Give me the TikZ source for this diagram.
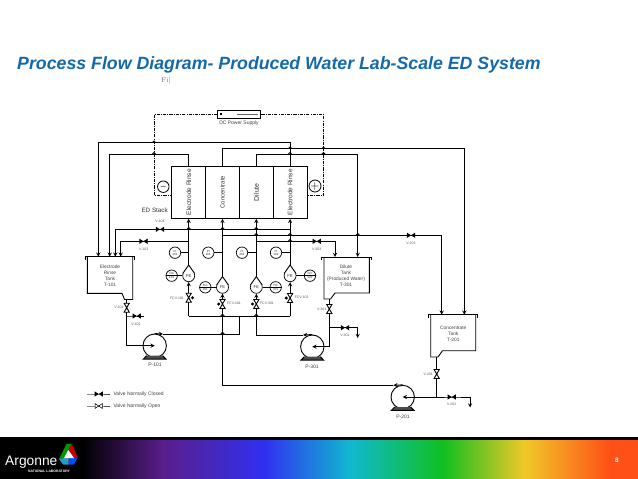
\documentclass[tikz,border=0pt]{standalone}
\usepackage{fontspec}
\setmainfont{Liberation Sans}

\definecolor{titleblue}{RGB}{20,105,170}
\definecolor{barpurple}{RGB}{90,30,140}
\definecolor{barblue}{RGB}{48,48,240}
\definecolor{barcyan}{RGB}{16,184,208}
\definecolor{bargreen}{RGB}{16,192,32}
\definecolor{baryellow}{RGB}{240,200,40}
\definecolor{barorange}{RGB}{255,80,24}
\pgfdeclarehorizontalshading{rainbowbar}{100bp}{
  color(0bp)=(black); color(25bp)=(black); color(31.5bp)=(black);
  color(37.8bp)=(barpurple);
  color(45.7bp)=(barblue);
  color(52.4bp)=(barcyan);
  color(59.7bp)=(bargreen);
  color(66.1bp)=(baryellow);
  color(72.8bp)=(barorange);
  color(100bp)=(barorange)}

\tikzset{
  pipe/.style={line width=0.9pt, >=stealth},
  powerline/.style={line width=0.8pt, dash pattern=on 3.2pt off 1.2pt on 0.8pt off 1.2pt},
  stackcell/.style={draw, line width=0.9pt, rotate=90, minimum width=52.3pt, minimum height=33.8pt, inner sep=0pt, text=black!80},
  gauge/.style={draw, circle, fill=white, line width=0.7pt, minimum size=11.4pt, inner sep=0pt, align=center, text=black!80, font=\fontsize{3}{3.2}\selectfont},
  element/.style={gauge, minimum size=12pt, font=\fontsize{4.2}{4.2}\selectfont},
  pole/.style={draw, circle, line width=0.8pt, minimum size=11.5pt, inner sep=0pt},
  pumpbody/.style={draw, circle, line width=0.9pt, minimum size=23.4pt, inner sep=0pt},
  tankline/.style={line width=0.9pt},
  tanklabel/.style={align=center, text=black!75, font=\fontsize{4.8}{6}\selectfont},
  vlabel/.style={inner sep=0pt, text=black!65, font=\fontsize{3.5}{4}\selectfont},
  tag/.style={inner sep=0pt, text=black!75, font=\fontsize{5}{6}\selectfont},
}

% Simbolos repetidos
\newcommand{\shutvalve}[1]{\fill[shift={(#1)}] (-4.2,-2.7) -- (4.2,2.7) -- (4.2,-2.7) -- (-4.2,2.7) -- cycle;}
\newcommand{\openvalve}[1]{\draw[pipe, fill=white, shift={(#1)}] (-2.6,-4.5) -- (2.6,-4.5) -- (-2.6,4.5) -- (2.6,4.5) -- cycle;}
\newcommand{\actuator}[2]{\fill[shift={(#1)}] (#2,0) circle (1.7);}
\newcommand{\pipehop}[2]{\draw[pipe] (#1-1.8,#2) arc (180:360:1.8);}
\newcommand{\elementcap}[1]{\draw[pipe, fill=white] (#1.160) -- (#1a) -- (#1.20);}
\newcommand{\pumpbase}[1]{\draw[line width=1pt, fill=black!70, shift={(#1)}] (-8,10) -- (-11.3,13.4) -- (11.3,13.4) -- (8,10);}

\begin{document}
\begin{tikzpicture}[x=1pt,y=-1pt]
    \useasboundingbox (0,0) rectangle (638,479);

    % Titulo
    \node[anchor=base west, inner sep=0pt, text=titleblue, font=\fontsize{17.75}{20}\selectfont\bfseries\itshape] (title) at (17,69) {Process Flow Diagram- Produced Water Lab-Scale ED System};
    \node[inner sep=0pt, text=black!55, font=\fontfamily{lmr}\fontsize{7}{8}\selectfont] (figtag) at (166,80.5) {Fi|};

    % Banda inferior
    \shade[shading=rainbowbar] (0,439) rectangle (638,479);
    \fill[black] (0,437.3) rectangle (638,440);
    \fill[green!60!black] (66.5,444) -- (71.7,444) -- (68.3,450) -- (64,458) -- (59,459) -- cycle;
    \fill[red!80!black] (71.7,444) -- (77.7,457.3) -- (74,458) -- (68.3,450) -- cycle;
    \fill[blue!70!cyan] (74,458) -- (77.7,457.3) -- (74,464.7) -- (68.5,464.7) -- (68.5,458) -- cycle;
    \fill[cyan!80!black] (59,459) -- (64,458) -- (68.5,458) -- (68.5,464.7) -- (63.3,464.7) -- cycle;
    \fill[white] (68.3,450) -- (64,458) -- (74,458) -- cycle;
    \node[anchor=base west, inner sep=0pt, text=white, font=\fontsize{13.8}{14}\selectfont] (argonne) at (5,465) {Argonne};
    \node[anchor=base west, inner sep=0pt, text=white, font=\fontsize{3.4}{4}\selectfont\bfseries] (natlab) at (28,472.5) {NATIONAL LABORATORY};
    \node[inner sep=0pt, text=white, font=\fontsize{6.5}{7}\selectfont\bfseries] (pageno) at (617,460) {8};

    % Stack
    \node[stackcell, font=\fontsize{6.5}{8}\selectfont] (er1) at (188.7,192.2) {Electrode Rinse};
    \node[stackcell, font=\fontsize{6}{8}\selectfont] (conc) at (222.5,192.2) {Concentrate};
    \node[stackcell, font=\fontsize{7}{8}\selectfont] (dil) at (256.3,192.2) {Dilute};
    \node[stackcell, font=\fontsize{6.5}{8}\selectfont] (er2) at (290.1,192.2) {Electrode Rinse};
    \node[anchor=east, inner sep=0pt, text=black!80, font=\fontsize{6.3}{7}\selectfont] (edstack) at (168,210.5) {ED Stack};
    \node[pole, font=\fontsize{7}{7}\selectfont\boldmath] (minus) at (163.3,186.7) {$-$};
    \node[pole, font=\fontsize{12}{12}\selectfont] (plus) at (315,186) {$+$};

    % Fuente
    \node[draw, line width=1pt, minimum width=43pt, minimum height=8pt, inner sep=0pt] (psu) at (239.3,114.3) {};
    \fill (220,113.3) rectangle (222,115.3);
    \draw[line width=1.2pt, black!60] (236.7,114.3) -- (258,114.3);
    \node[tag] (psulabel) at (239,123.3) {DC Power Supply};
    \coordinate (pwa) at (154,114.3);
    \coordinate (pwb) at (154,195.3);
    \coordinate (pwc) at (171.7,195.3);
    \coordinate (pwd) at (323.5,114.3);
    \coordinate (pwe) at (323.5,195.3);
    \coordinate (pwf) at (307,195.3);
    \draw[powerline] (psu.west) -- (pwa) -- (pwb) -- (pwc);
    \draw[powerline] (psu.east) -- (pwd) -- (pwe) -- (pwf);

    % Tanques
    \draw[tankline] (85.7,260) -- (85.7,256.7) -- (134,256.7) -- (134,260);
    \draw[tankline] (87.3,256.7) -- (87.3,293.3) -- (122,293.3) -- (124.5,299.5) -- (132.7,299.5) -- (132.7,256.7);
    \node[tanklabel] (t101) at (110,276) {Electrode\\Rinse\\Tank\\T-101};
    \draw[tankline] (321.7,260.3) -- (321.7,257) -- (371.7,257) -- (371.7,260.3);
    \draw[tankline] (324,257) -- (324,299) -- (330.5,299) -- (335,293) -- (369.3,293) -- (369.3,257);
    \node[tanklabel] (t301) at (346,276) {Dilute\\Tank\\(Produced Water)\\T-301};
    \draw[tankline] (428.3,318) -- (428.3,314.7) -- (477.7,314.7) -- (477.7,318);
    \draw[tankline] (430.7,314.7) -- (430.7,357) -- (438,357) -- (442.5,350.7) -- (475.7,350.7) -- (475.7,314.7);
    \node[tanklabel] (t201) at (453.3,333.5) {Concentrate\\Tank\\T-201};

    % Bombas
    \node[pumpbody] (p101) at (154.7,345.7) {};
    \node[pumpbody] (p301) at (312.3,346.7) {};
    \node[pumpbody] (p201) at (402.7,397) {};
    \pumpbase{p101}
    \pumpbase{p301}
    \pumpbase{p201}
    \node[tag] (p101label) at (155,365) {P-101};
    \node[tag] (p301label) at (312,366.3) {P-301};
    \node[tag] (p201label) at (403,417) {P-201};

    % Instrumentos
    \node[gauge] (fi101) at (175,252.7) {PI\\101};
    \node[gauge] (fi201) at (208.3,252.7) {PI\\201};
    \node[gauge] (fi301) at (242,252.7) {PI\\301};
    \node[gauge] (fi102) at (276,252.7) {PI\\102};
    \node[element] (fe101) at (188.7,275.7) {FE};
    \node[element] (fe201) at (222.5,287.3) {FE};
    \node[element] (fe301) at (256.3,287.3) {FE};
    \node[element] (fe102) at (290.1,275.7) {FE};
    \coordinate (fe101a) at (188.7,265);
    \coordinate (fe201a) at (222.5,276.6);
    \coordinate (fe301a) at (256.3,276.6);
    \coordinate (fe102a) at (290.1,265);
    \elementcap{fe101}
    \elementcap{fe201}
    \elementcap{fe301}
    \elementcap{fe102}
    \node[gauge] (fic101) at (171.7,275.7) {FIC\\[0.3pt]101};
    \node[gauge] (fic201) at (205.3,287.3) {FIC\\[0.3pt]201};
    \node[gauge] (fic301) at (275.7,287.3) {FIC\\[0.3pt]301};
    \node[gauge] (fic102) at (310,275.7) {FIC\\[0.3pt]102};
    \draw[line width=0.5pt] (fic101.west) -- (fic101.east);
    \draw[line width=0.5pt] (fic201.west) -- (fic201.east);
    \draw[line width=0.5pt] (fic301.west) -- (fic301.east);
    \draw[line width=0.5pt] (fic102.west) -- (fic102.east);

    % Puntos de las lineas
    \coordinate (rinsea) at (98.3,142.7);
    \coordinate (t101a) at (98.3,256.7);
    \coordinate (rinseb) at (109.7,154.3);
    \coordinate (t101b) at (109.7,256.7);
    \coordinate (conca) at (464.3,148.7);
    \coordinate (t201a) at (464.3,314.7);
    \coordinate (dila) at (357.7,154.3);
    \coordinate (t301a) at (357.7,257);
    \coordinate (j104) at (290.1,229.3);
    \coordinate (v104) at (160,229.3);
    \coordinate (c104) at (115.3,229.3);
    \coordinate (t101c) at (115.3,256.7);
    \coordinate (j103) at (188.7,241.3);
    \coordinate (v103) at (143.5,241.3);
    \coordinate (c103) at (120.7,241.3);
    \coordinate (t101d) at (120.7,256.7);
    \coordinate (j203) at (222.5,235.3);
    \coordinate (v203) at (411,235.3);
    \coordinate (c203) at (441.7,235.3);
    \coordinate (t201b) at (441.7,314.7);
    \coordinate (j303) at (256.3,241.3);
    \coordinate (v303) at (316.7,241.3);
    \coordinate (c303) at (335,241.3);
    \coordinate (t301b) at (335,257);
    \coordinate (m101) at (188.7,316);
    \coordinate (m102) at (290.1,316);
    \coordinate (fcv101) at (188.7,297.7);
    \coordinate (fcv201) at (222.5,304);
    \coordinate (fcv301) at (256.3,304);
    \coordinate (fcv102) at (290.1,298);
    \coordinate (d101) at (163,334);
    \coordinate (c101) at (239.3,334);
    \coordinate (j101) at (239.3,316);
    \coordinate (d301) at (303,335);
    \coordinate (c301) at (256.3,335);
    \coordinate (d201) at (393.3,385.3);
    \coordinate (c201) at (222.5,385.3);
    \coordinate (o101) at (126.7,299.5);
    \coordinate (v101) at (126.7,307.7);
    \coordinate (j102) at (126.7,316);
    \coordinate (v102) at (136.7,316);
    \coordinate (e102) at (143.5,316);
    \coordinate (c111) at (126.7,345.7);
    \coordinate (o301) at (329.3,299);
    \coordinate (v301) at (329.3,309);
    \coordinate (j302) at (329.3,327.7);
    \coordinate (v302) at (345,327.7);
    \coordinate (c302) at (357.7,327.7);
    \coordinate (e302) at (357.7,338);
    \coordinate (c311) at (329.3,346.7);
    \coordinate (o201) at (436.7,357);
    \coordinate (v201) at (436.7,374);
    \coordinate (j202) at (436.7,397);
    \coordinate (v202) at (451.7,397);
    \coordinate (c202) at (470,397);
    \coordinate (e202) at (470,407.5);

    % Salidas del stack a los tanques
    \draw[pipe, ->] (er2.east) |- (rinsea) -- (t101a);
    \draw[pipe, ->] (er1.east) |- (rinseb) -- (t101b);
    \draw[pipe, ->] (conc.east) |- (conca) -- (t201a);
    \draw[pipe, ->] (dil.east) |- (dila) -- (t301a);

    % Entradas del stack
    \draw[pipe, ->] (fe101a) -- (er1.west);
    \draw[pipe, ->] (fe201a) -- (conc.west);
    \draw[pipe, ->] (fe301a) -- (dil.west);
    \draw[pipe, ->] (fe102a) -- (er2.west);
    \draw[pipe, ->] (j104) -- (v104) -- (c104) -- (t101c);
    \draw[pipe, ->] (j103) -- (v103);
    \draw[pipe, ->] (v103) -- (c103) -- (t101d);
    \draw[pipe, ->] (j203) -- (v203) -- (c203) -- (t201b);
    \draw[pipe, ->] (j303) -- (v303) -- (c303) -- (t301b);

    % Instrumentos a la linea
    \draw[pipe] (fi101.east) -- (fi101.east -| er1.west);
    \draw[pipe] (fi201.east) -- (fi201.east -| conc.west);
    \draw[pipe] (fi301.east) -- (fi301.east -| dil.west);
    \draw[pipe] (fi102.east) -- (fi102.east -| er2.west);
    \draw[pipe] (fic101.east) -- (fe101.west);
    \draw[pipe] (fic201.east) -- (fe201.west);
    \draw[pipe] (fe301.east) -- (fic301.west);
    \draw[pipe] (fe102.east) -- (fic102.west);

    % Descargas de las bombas
    \draw[pipe] (m101) -- (m102);
    \draw[pipe, ->] (m101) -- (fcv101) -- (fe101.south);
    \draw[pipe, ->] (m102) -- (fcv102) -- (fe102.south);
    \draw[pipe, ->] (p101.north) -- (d101);
    \draw[pipe] (d101) -- (c101) -- (j101);
    \draw[pipe, ->] (p301.north) -- (d301);
    \draw[pipe, ->] (d301) -- (c301) -- (fcv301) -- (fe301.south);
    \draw[pipe, ->] (p201.north) -- (d201);
    \draw[pipe, ->] (d201) -- (c201) -- (fcv201) -- (fe201.south);

    % Salidas de los tanques
    \draw[pipe, ->] (o101) -- (v101) -- (c111) -- (p101.center);
    \draw[pipe] (j102) -- (v102) -- (e102);
    \draw[pipe, ->] (o301) -- (v301) -- (c311) -- (p301.center);
    \draw[pipe, ->] (j302) -- (v302) -- (c302) -- (e302);
    \draw[pipe] (o201) -- (v201) -- (j202);
    \draw[pipe, ->] (j202) -- (p201.center);
    \draw[pipe, ->] (j202) -- (v202) -- (c202) -- (e202);

    % Saltos en los cruces
    \foreach \hx/\hy in {154/142.7, 154/154.3, 290.1/148.7, 290.1/154.3, 323.5/148.7, 323.5/154.3,
        188.7/229.3, 222.5/229.3, 256.3/229.3, 256.3/235.3, 290.1/235.3, 357.7/235.3, 290.1/241.3,
        222.5/316, 256.3/316, 222.5/334}
        \pipehop{\hx}{\hy};

    % Valvulas
    \shutvalve{v104}
    \shutvalve{v103}
    \shutvalve{v203}
    \shutvalve{v303}
    \shutvalve{v102}
    \shutvalve{v302}
    \shutvalve{v202}
    \openvalve{v101}
    \openvalve{v301}
    \openvalve{v201}
    \openvalve{fcv101}
    \openvalve{fcv201}
    \openvalve{fcv301}
    \openvalve{fcv102}
    \actuator{fcv101}{3.8}
    \actuator{fcv201}{-3.8}
    \actuator{fcv301}{-3.8}
    \actuator{fcv102}{-3.8}

    % Etiquetas de valvulas
    \node[vlabel] (lv104) at (160,221.7) {V-104};
    \node[vlabel] (lv103) at (143.7,249) {V-103};
    \node[vlabel] (lv303) at (316.7,249) {V-303};
    \node[vlabel] (lv203) at (411,243) {V-203};
    \node[vlabel] (lv101) at (119,307.7) {V-101};
    \node[vlabel] (lv102) at (136,324.3) {V-102};
    \node[vlabel] (lv301) at (321.7,309) {V-301};
    \node[vlabel] (lv302) at (345,335.3) {V-302};
    \node[vlabel] (lv201) at (428.3,374) {V-201};
    \node[vlabel] (lv202) at (451.7,404.7) {V-202};
    \node[vlabel] (lfcv101) at (177,298) {FCV-101};
    \node[vlabel] (lfcv201) at (234,303) {FCV-201};
    \node[vlabel] (lfcv301) at (267,303) {FCV-301};
    \node[vlabel] (lfcv102) at (301.7,297.3) {FCV-102};

    % Leyenda
    \coordinate (lega) at (87.3,394);
    \coordinate (legb) at (98.7,394);
    \coordinate (legc) at (110,394);
    \coordinate (lege) at (87.3,406);
    \coordinate (legf) at (98.7,406);
    \coordinate (legg) at (110,406);
    \draw[pipe, black!70] (lega) -- (legb) -- (legc);
    \draw[pipe, black!70] (lege) -- (legf) -- (legg);
    \shutvalve{legb}
    \draw[line width=0.6pt, fill=white, shift={(legf)}] (-3.6,-2.4) -- (3.6,2.4) -- (3.6,-2.4) -- (-3.6,2.4) -- cycle;
    \node[tag, anchor=west] (legshut) at (113.3,394) {Valve Normally Closed};
    \node[tag, anchor=west] (legopen) at (113.3,406) {Valve Normally Open};
\end{tikzpicture}
\end{document}
